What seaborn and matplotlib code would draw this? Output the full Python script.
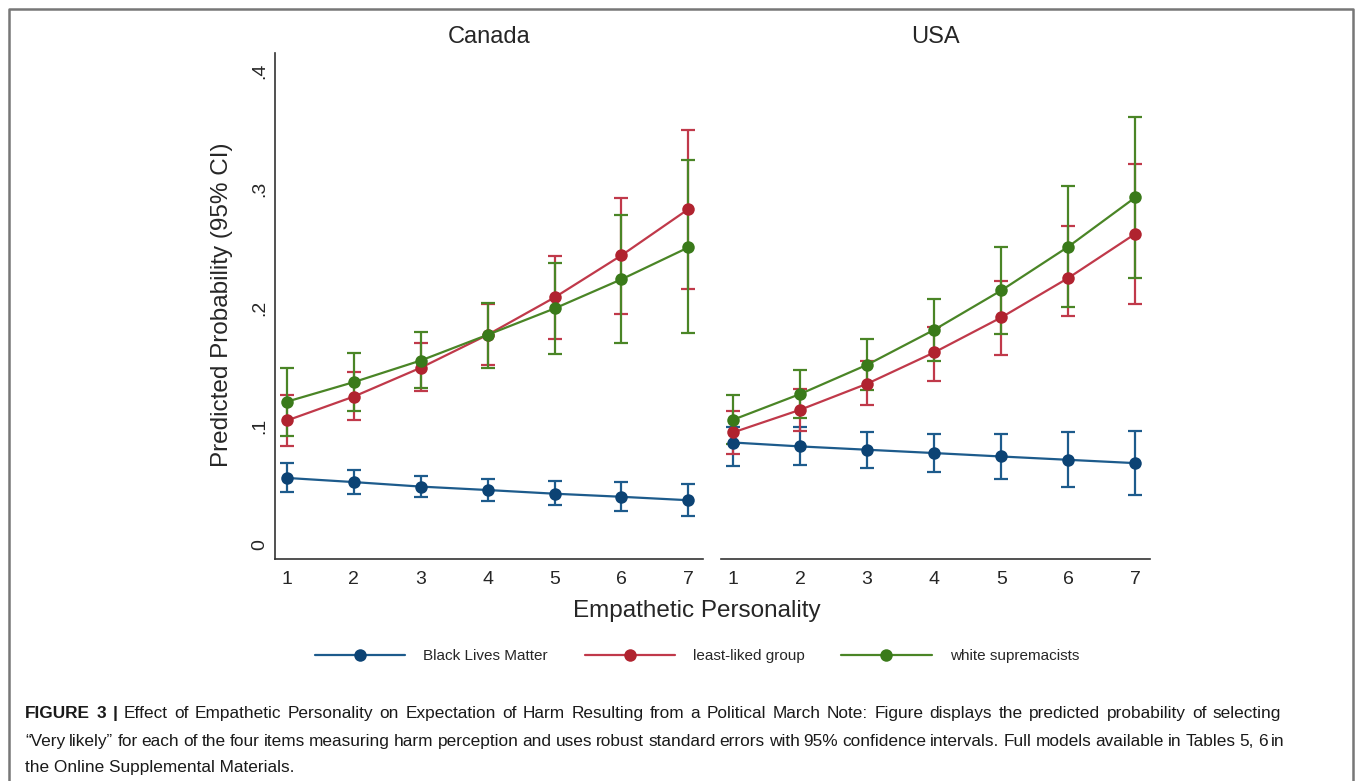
import matplotlib
matplotlib.use("Agg")
import matplotlib.pyplot as plt
import numpy as np
import pandas as pd
import seaborn as sns
from matplotlib.lines import Line2D

empathy = [1, 2, 3, 4, 5, 6, 7]
groups = ["Black Lives Matter", "least-liked group", "white supremacists"]
countries = ["Canada", "USA"]

# Canada
can_blm = [0.0564, 0.0529, 0.0491, 0.0462, 0.0431, 0.0405, 0.0376]
can_blm_lo = [0.0442, 0.0428, 0.0405, 0.0370, 0.0332, 0.0283, 0.0246]
can_blm_hi = [0.0688, 0.0630, 0.0578, 0.0555, 0.0535, 0.0526, 0.0514]
can_least = [0.1049, 0.1251, 0.1494, 0.1772, 0.2087, 0.2442, 0.2832]
can_least_lo = [0.0830, 0.1055, 0.1295, 0.1517, 0.1740, 0.1951, 0.2162]
can_least_hi = [0.1266, 0.1460, 0.1700, 0.2029, 0.2436, 0.2928, 0.3503]
can_white = [0.1208, 0.1373, 0.1555, 0.1772, 0.1994, 0.2240, 0.2509]
can_white_lo = [0.0919, 0.1127, 0.1324, 0.1488, 0.1610, 0.1705, 0.1783]
can_white_hi = [0.1488, 0.1618, 0.1792, 0.2038, 0.2379, 0.2780, 0.3243]

# USA
usa_blm = [0.0863, 0.0830, 0.0802, 0.0774, 0.0745, 0.0717, 0.0689]
usa_blm_lo = [0.0669, 0.0675, 0.0652, 0.0613, 0.0554, 0.0487, 0.0422]
usa_blm_hi = [0.0990, 0.0990, 0.0948, 0.0934, 0.0937, 0.0948, 0.0956]
usa_least = [0.0948, 0.1139, 0.1359, 0.1623, 0.1918, 0.2251, 0.2624]
usa_least_lo = [0.0765, 0.0962, 0.1181, 0.1384, 0.1603, 0.1927, 0.2034]
usa_least_hi = [0.1131, 0.1314, 0.1547, 0.1837, 0.2228, 0.2686, 0.3215]
usa_white = [0.1055, 0.1272, 0.1519, 0.1814, 0.2146, 0.2515, 0.2931]
usa_white_lo = [0.0850, 0.1069, 0.1308, 0.1547, 0.1781, 0.2009, 0.2251]
usa_white_hi = [0.1266, 0.1477, 0.1738, 0.2076, 0.2512, 0.3024, 0.3606]

ytick_vals = [0, 0.1, 0.2, 0.3, 0.4]
ytick_labels = ["0", ".1", ".2", ".3", ".4"]

caption_bold = "FIGURE 3 |"
caption_lines = [
    "Effect of Empathetic Personality on Expectation of Harm Resulting from "
    "a Political March Note: Figure displays the predicted probability of selecting",
    "\u201cVery likely\u201d for each of the four items measuring harm perception and uses "
    "robust standard errors with 95% confidence intervals. Full models available in "
    "Tables 5, 6 in",
    "the Online Supplemental Materials.",
]

series = {
    ("Canada", groups[0]): (can_blm, can_blm_lo, can_blm_hi),
    ("Canada", groups[1]): (can_least, can_least_lo, can_least_hi),
    ("Canada", groups[2]): (can_white, can_white_lo, can_white_hi),
    ("USA", groups[0]): (usa_blm, usa_blm_lo, usa_blm_hi),
    ("USA", groups[1]): (usa_least, usa_least_lo, usa_least_hi),
    ("USA", groups[2]): (usa_white, usa_white_lo, usa_white_hi),
}
rows = []
for (country, grp), (p, lo, hi) in series.items():
    for x, a, b, c in zip(empathy, p, lo, hi):
        rows.append({"country": country, "group": grp, "empathy": x,
                     "prob": a, "lo": b, "hi": c})
df = pd.DataFrame(rows)

line_colors = {groups[0]: "#1d5b8c", groups[1]: "#c0394a", groups[2]: "#4a8526"}
mark_colors = {groups[0]: "#0c4374", groups[1]: "#b0232f", groups[2]: "#3a7a1a"}

sns.set_style("white")
plt.rcParams["font.family"] = ["Liberation Sans", "DejaVu Sans"]

W, H = 1355, 781
fig = plt.figure(figsize=(W / 100, H / 100), dpi=100)

def fx(px):
    return px / W

def fy(py):
    return 1 - py / H

ax_bottom, ax_top = 559, 53
panels = {"Canada": (275, 703), "USA": (721, 1150)}
axes = {}
for country, (l, r) in panels.items():
    ax = fig.add_axes([fx(l), fy(ax_bottom), fx(r) - fx(l), fy(ax_top) - fy(ax_bottom)])
    axes[country] = ax
    sub = df[df["country"] == country]
    for grp in groups:
        g = sub[sub["group"] == grp]
        ax.errorbar(g["empathy"], g["prob"],
                    yerr=[g["prob"] - g["lo"], g["hi"] - g["prob"]],
                    fmt="none", ecolor=line_colors[grp], elinewidth=1.6,
                    capsize=5, capthick=1.6, zorder=2)
        sns.lineplot(data=g, x="empathy", y="prob", ax=ax, color=line_colors[grp],
                     linewidth=1.6, marker="o", markersize=9,
                     markerfacecolor=mark_colors[grp], markeredgewidth=0,
                     legend=False, zorder=3)
    ax.set_xlim(0.82, 7.22)
    ax.set_ylim(-0.012, 0.415)
    ax.set_xticks(empathy)
    ax.set_xticklabels([str(v) for v in empathy], fontsize=14)
    ax.set_xlabel("")
    ax.set_ylabel("")
    ax.tick_params(axis="both", length=0)
    ax.tick_params(axis="x", pad=9)
    for s in ["top", "right"]:
        ax.spines[s].set_visible(False)
    ax.spines["bottom"].set_color("#333333")
    ax.spines["bottom"].set_linewidth(1.2)
    ax.set_facecolor("none")
    fig.text(fx((l + r) / 2), fy(37), country, ha="center", va="center", fontsize=17)

ax = axes["Canada"]
ax.set_yticks(ytick_vals)
ax.set_yticklabels(ytick_labels, fontsize=14, rotation=90, va="center")
ax.tick_params(axis="y", pad=5)
ax.spines["left"].set_color("#333333")
ax.spines["left"].set_linewidth(1.2)

axu = axes["USA"]
axu.spines["left"].set_visible(False)
axu.set_yticks(ytick_vals)
axu.set_yticklabels([])

fig.text(fx(222), fy(305), "Predicted Probability (95% CI)", rotation=90,
         ha="center", va="center", fontsize=17.5)
fig.text(fx(697), fy(611), "Empathetic Personality", ha="center", va="center",
         fontsize=17.5)

handles = [Line2D([], [], color=line_colors[g], linewidth=1.6, marker="o",
                  markersize=9, markerfacecolor=mark_colors[g], markeredgewidth=0)
           for g in groups]
fig.legend(handles, groups, loc="center", bbox_to_anchor=(fx(697), fy(656)),
           ncol=3, frameon=False, fontsize=11, handlelength=5.9,
           handletextpad=1.2, columnspacing=2.4)

# figure border (left, top, right)
fig.add_artist(Line2D([fx(9), fx(9), fx(1353), fx(1353)],
                      [0, fy(8.5), fy(8.5), 0], color="#777777", linewidth=1.8))

# caption, first two lines justified
cap_size = 12.4
renderer = fig.canvas.get_renderer()

def justified(words, x0, x1, y):
    # words: list of (text, weight)
    texts = [fig.text(0, fy(y), w, fontsize=cap_size, fontweight=wt, ha="left",
                      va="baseline", color="#1a1a1a") for w, wt in words]
    widths = [t.get_window_extent(renderer).width for t in texts]
    gap = (x1 - x0 - sum(widths)) / (len(texts) - 1)
    x = x0
    for t, w in zip(texts, widths):
        t.set_x(fx(x))
        x += w + gap

line1 = [(w, "bold") for w in caption_bold.split()] + \
        [(w, "normal") for w in caption_lines[0].split()]
justified(line1, 25, 1281, 718)
justified([(w, "normal") for w in caption_lines[1].split()], 25, 1285, 746)
fig.text(fx(25), fy(772), caption_lines[2], fontsize=cap_size, ha="left",
         va="baseline", color="#1a1a1a")

fig.savefig("out.png", dpi=100)
